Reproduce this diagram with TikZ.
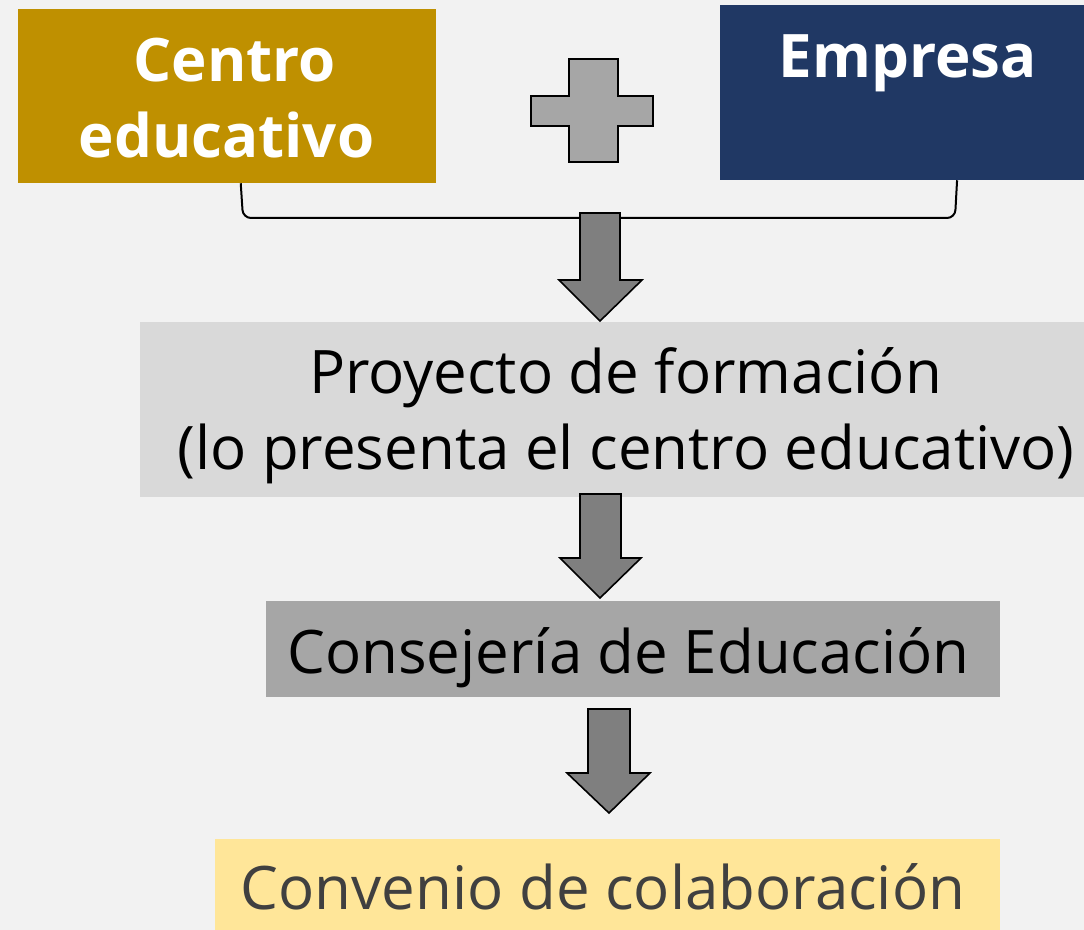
\documentclass[tikz,border=0pt]{standalone}
\usepackage{fontspec}
\setmainfont{Open Sans}
\definecolor{bgc}{HTML}{F2F2F2}
\definecolor{goldc}{HTML}{BF9000}
\definecolor{navyc}{HTML}{203864}
\definecolor{lightg}{HTML}{D9D9D9}
\definecolor{midg}{HTML}{A6A6A6}
\definecolor{darkg}{HTML}{7F7F7F}
\definecolor{yellowc}{HTML}{FFE699}
\definecolor{textg}{HTML}{404040}
\tikzset{
  boxshape/.style={inner sep=0pt, draw=none},
  boldtext/.style={inner sep=0pt, anchor=base, text=white, font=\fontsize{45}{57}\selectfont\bfseries},
  flowtext/.style={inner sep=0pt, anchor=base, font=\fontsize{45}{56}\selectfont},
  blockarrow/.style={fill=darkg, draw=black, line width=1.2pt, line join=miter},
  plusshape/.style={fill=midg, draw=black, line width=1.2pt},
  bracket/.style={draw=black, line width=1.5pt, rounded corners=6pt}
}
\begin{document}
\begin{tikzpicture}[x=0.75pt,y=-0.75pt]
\fill[bgc] (0,0) rectangle (1084,930);
\useasboundingbox (0,0) rectangle (1084,930);
% top boxes
\node[boxshape, fill=goldc, minimum width=313.5pt, minimum height=130.5pt] (centro) at (227,96) {};
\node[boldtext] (centroA) at (234.5,82) {Centro};
\node[boldtext] (centroB) at (226.5,158) {educativo};
\node[boxshape, fill=navyc, minimum width=273pt, minimum height=131.25pt] (empresa) at (902,92.5) {};
\node[boldtext] (empresaA) at (908,78) {Empresa};
% plus sign
\draw[plusshape] (569,59) -- (618,59) -- (618,96) -- (653,96) -- (653,126) -- (618,126) -- (618,162) -- (569,162) -- (569,126) -- (531,126) -- (531,96) -- (569,96) -- cycle;
% bracket
\coordinate (bl) at ([xshift=167.25pt]centro.south west);
\coordinate (br) at ([xshift=178pt]empresa.south west);
\draw[bracket] (bl) -- (243,218) -- (955,218) -- (br);
% flow boxes
\node[boxshape, fill=lightg, minimum width=729pt, minimum height=131.25pt] (proyecto) at (626,409.5) {};
\node[flowtext] (proyectoA) at (625.5,393) {Proyecto de formación};
\node[flowtext] (proyectoB) at (626,469) {(lo presenta el centro educativo)};
\node[boxshape, fill=midg, minimum width=550.5pt, minimum height=72pt] (consejeria) at (633,649) {};
\node[flowtext] (consejeriaA) at (628.5,673) {Consejería de Educación};
\node[boxshape, fill=yellowc, minimum width=588.75pt, minimum height=75.75pt] (convenio) at (607.5,889.5) {};
\node[flowtext, text=textg] (convenioA) at (603,909) {Convenio de colaboración};
% block arrows
\draw[blockarrow] (580,213) -- (620,213) -- (620,280) -- (642,280) -- (600,321) -- (559,280) -- (580,280) -- cycle;
\draw[blockarrow] (580,494) -- (621,494) -- (621,558) -- (641,558) -- (600,598) -- (560,558) -- (580,558) -- cycle;
\draw[blockarrow] (588,709) -- (630,709) -- (630,773) -- (650,773) -- (609,813) -- (567,773) -- (588,773) -- cycle;
\end{tikzpicture}
\end{document}
